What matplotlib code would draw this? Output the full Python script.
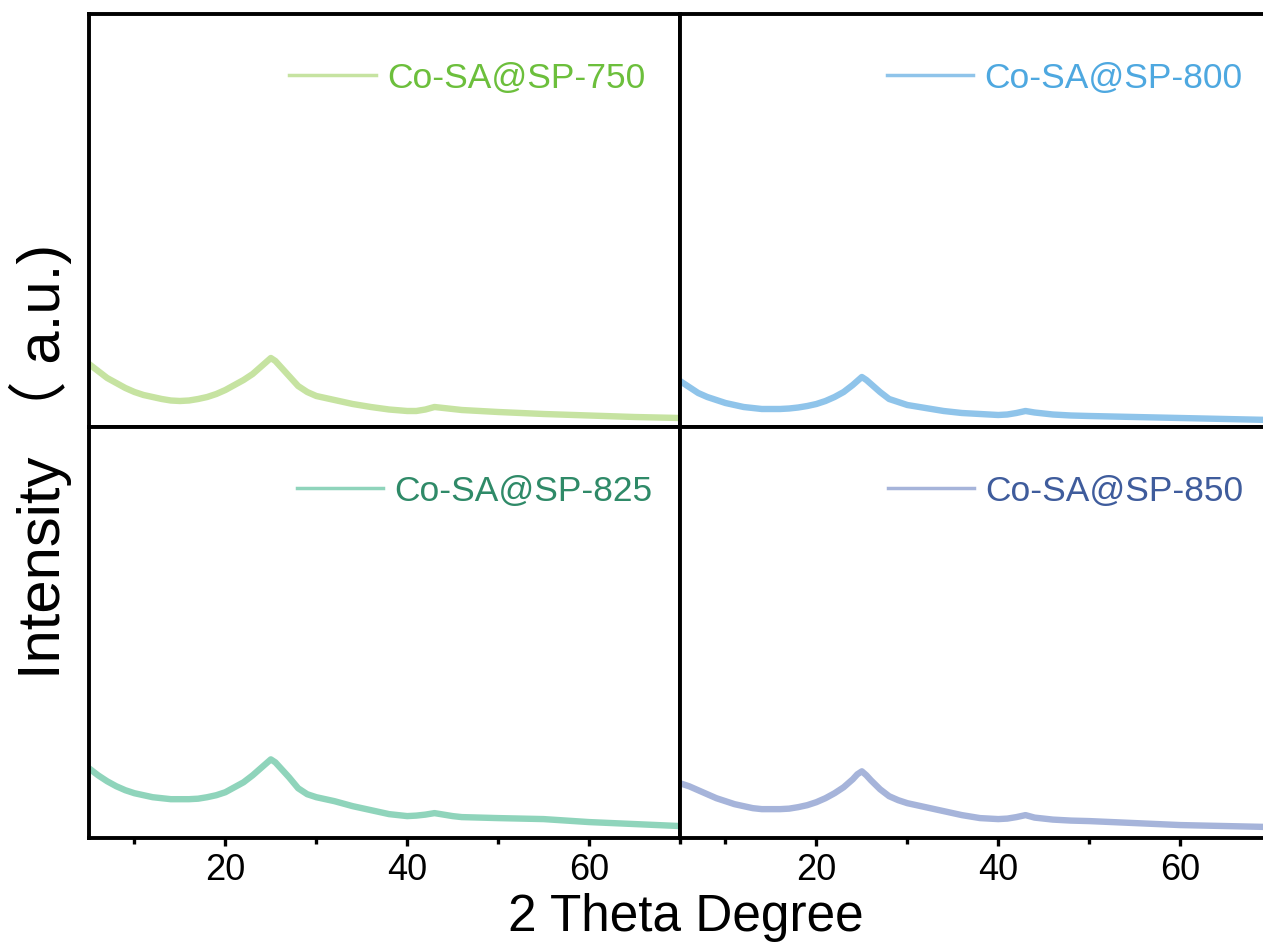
import matplotlib
matplotlib.use('Agg')
import matplotlib.pyplot as plt
from matplotlib.ticker import MultipleLocator

plt.rcParams['font.family'] = ['Liberation Sans', 'Noto Sans CJK SC', 'DejaVu Sans']

# XRD patterns (2 theta in degrees, intensity in a.u.)
two_theta = [5, 6, 7, 8, 9, 10, 11, 12, 13, 14, 15, 16, 17, 18, 19, 20,
             21, 22, 23, 24, 24.5, 25, 25.5, 26, 27, 28, 29, 30, 32, 34,
             36, 38, 40, 41, 42, 43, 44, 45, 46, 48, 50, 55, 60, 65, 70]

int_750 = [63, 56, 49, 44, 39, 35, 32, 30, 28, 26.5, 26, 26.5, 28, 30, 33, 37,
           42, 47, 53, 61, 65, 69, 66, 61, 51, 41, 35, 31, 27, 23,
           20, 17.5, 16, 16, 17.5, 20, 19, 18, 17, 16, 15, 13, 11.5, 10, 9]
int_800 = [46, 40, 34, 30, 27, 24, 22, 20, 19, 18, 18, 18, 18.5, 19.5, 21, 23,
           26, 30, 35, 42, 46, 50, 47, 43, 35, 28, 25, 22, 19, 16,
           14, 13, 12, 12.5, 14, 16, 14.5, 13.5, 12.5, 11.5, 11, 10, 9, 8, 7]
int_825 = [70, 63, 57, 52, 48, 45, 43, 41, 40, 39, 39, 39, 39.5, 41, 43, 46,
           51, 56, 63, 71, 75, 79, 76, 71, 61, 50, 44, 41, 37, 32,
           28, 24, 22, 22.5, 23.5, 25, 23.5, 22, 21, 20.5, 20, 19, 16, 14, 12]
int_850 = [55, 52, 48, 44, 40, 37, 34, 32, 30, 29, 29, 29, 29.5, 31, 33, 36,
           40, 45, 51, 59, 64, 67, 63, 58, 49, 42, 38, 35, 31, 27,
           23, 20, 19, 19.5, 21, 23, 20.5, 19.5, 18.5, 17.5, 17, 15, 13, 12, 11]

labels = ['Co-SA@SP-750', 'Co-SA@SP-800', 'Co-SA@SP-825', 'Co-SA@SP-850']
line_colors = ['#c6e3a1', '#8fc4ea', '#8fd4bb', '#a6b4da']
text_colors = ['#6cbf3c', '#4ea8e0', '#2f8a68', '#3f5c9c']
series = [int_750, int_800, int_825, int_850]

fig = plt.figure(figsize=(12.63, 9.5), dpi=100)

# 2x2 panels with no gaps; right column runs slightly past the figure edge
W, H = 1263, 950
boxes = [(89, 14, 680, 427), (680, 14, 1271, 427),
         (89, 427, 680, 838), (680, 427, 1271, 838)]
legend_pos = [(0.941, 0.845), (0.951, 0.845), (0.953, 0.844), (0.953, 0.844)]

for i, (x0, y0, x1, y1) in enumerate(boxes):
    ax = fig.add_axes([x0 / W, 1 - y1 / H, (x1 - x0) / W, (y1 - y0) / H])
    ax.plot(two_theta, series[i], color=line_colors[i], lw=4.6,
            solid_joinstyle='round', label=labels[i])
    ax.set_xlim(5, 70)
    ax.set_ylim(0, 413)
    ax.set_yticks([])
    for sp in ax.spines.values():
        sp.set_linewidth(2.8)
    if i >= 2:
        ax.xaxis.set_major_locator(MultipleLocator(20))
        ax.xaxis.set_minor_locator(MultipleLocator(10))
        ax.tick_params(axis='x', which='major', direction='out', length=6,
                       width=2.4, labelsize=26, pad=5)
        ax.tick_params(axis='x', which='minor', direction='out', length=4,
                       width=2.4)
    else:
        ax.set_xticks([])
    leg = ax.legend(loc='center right', bbox_to_anchor=legend_pos[i],
                    frameon=False, fontsize=25.5, handlelength=2.45,
                    handletextpad=0.3, borderaxespad=0, borderpad=0)
    for t in leg.get_texts():
        t.set_color(text_colors[i])
    for ln in leg.get_lines():
        ln.set_linewidth(2.5)

fig.text(0.543, 0.034, '2 Theta Degree', fontsize=37, ha='center', va='center')
fig.text(0.032, 0.514, 'Intensity （ a.u.)', fontsize=43, rotation=90,
         ha='center', va='center')

plt.savefig('out.png', dpi=100)
